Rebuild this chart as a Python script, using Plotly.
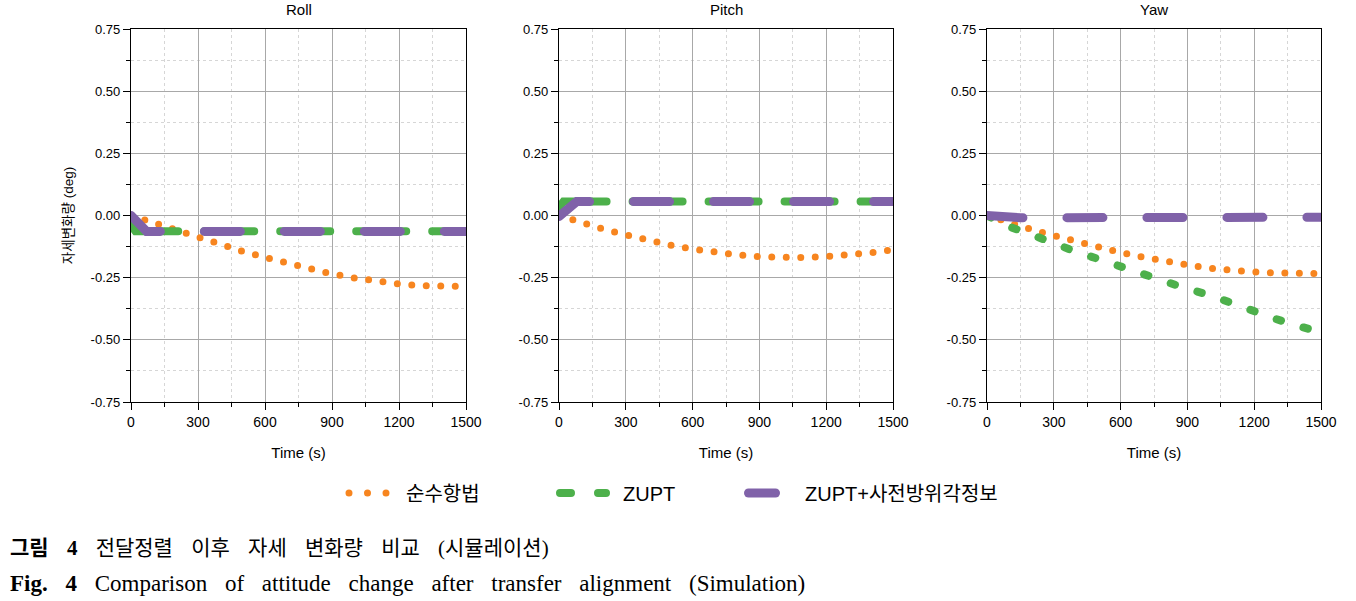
import plotly.graph_objects as go

# ---------------- data ----------------
PANELS = ["Roll", "Pitch", "Yaw"]
SERIES = ["순수항법", "ZUPT", "ZUPT+사전방위각정보"]

T = [0, 100, 200, 300, 400, 500, 600, 700, 800, 900, 1000, 1100, 1200, 1300, 1400, 1500]

ROLL_PURE = [0.0, -0.030, -0.060, -0.089, -0.118, -0.144, -0.169, -0.193, -0.215, -0.235,
             -0.251, -0.264, -0.275, -0.282, -0.285, -0.285]
PITCH_PURE = [0.0, -0.029, -0.055, -0.078, -0.100, -0.119, -0.135, -0.149, -0.158, -0.166,
              -0.170, -0.169, -0.165, -0.160, -0.150, -0.138]
YAW_PURE = [0.0, -0.031, -0.056, -0.081, -0.104, -0.130, -0.149, -0.167, -0.185, -0.198,
            -0.212, -0.221, -0.227, -0.231, -0.234, -0.234]

ROLL_ZUPT_T = [0, 20, 1500]
ROLL_ZUPT = [-0.040, -0.063, -0.063]
PITCH_ZUPT_T = [0, 20, 1500]
PITCH_ZUPT = [0.035, 0.056, 0.056]
YAW_ZUPT = [0.0, -0.045, -0.077, -0.113, -0.146, -0.175, -0.206, -0.237, -0.265, -0.295,
            -0.320, -0.354, -0.384, -0.417, -0.445, -0.470]

ROLL_PRIOR_T = [0, 70, 1500]
ROLL_PRIOR = [0.0, -0.064, -0.064]
PITCH_PRIOR_T = [0, 80, 1500]
PITCH_PRIOR = [-0.004, 0.056, 0.056]
YAW_PRIOR_T = [0, 150, 1500]
YAW_PRIOR = [0.0, -0.009, -0.007]

X_TICKS = [0, 300, 600, 900, 1200, 1500]
X_TICK_LABELS = ["0", "300", "600", "900", "1200", "1500"]
Y_TICKS = [-0.75, -0.5, -0.25, 0.0, 0.25, 0.5, 0.75]
Y_TICK_LABELS = ["-0.75", "-0.50", "-0.25", "0.00", "0.25", "0.50", "0.75"]

CAPTION_KO = "<b>그림 4</b> 전달정렬 이후 자세 변화량 비교 (시뮬레이션)"
CAPTION_EN = "<b>Fig. 4</b> Comparison of attitude change after transfer alignment (Simulation)"

# ---------------- style ----------------
COLORS = ["#F7851F", "#4DB04B", "#8062A9"]
FONT = "Arial, 'Liberation Sans', 'Noto Sans CJK KR', sans-serif"
SERIF = "'Liberation Serif', 'Noto Sans CJK KR', serif"

W, H = 1356, 601
XDOM = [(131 / W, 466 / W), (559 / W, 893 / W), (987 / W, 1321 / W)]
YDOM = (1 - 402 / H, 1 - 29 / H)

fig = go.Figure()

panel_data = [
    ((T, ROLL_PURE), (ROLL_ZUPT_T, ROLL_ZUPT), (ROLL_PRIOR_T, ROLL_PRIOR)),
    ((T, PITCH_PURE), (PITCH_ZUPT_T, PITCH_ZUPT), (PITCH_PRIOR_T, PITCH_PRIOR)),
    ((T, YAW_PURE), (T, YAW_ZUPT), (YAW_PRIOR_T, YAW_PRIOR)),
]
green_dash = ["50px,26px", "50px,26px", "4.5px,23.5px"]
legend_ids = ["legend", "legend2", "legend3"]

for i, (pure, zupt, prior) in enumerate(panel_data):
    xa = "x" if i == 0 else f"x{i+1}"
    ya = "y" if i == 0 else f"y{i+1}"
    fig.add_trace(go.Scatter(x=pure[0], y=pure[1], mode="lines", name=SERIES[0],
                             line=dict(color=COLORS[0], width=7, dash="0px,14.5px"),
                             xaxis=xa, yaxis=ya, showlegend=(i == 0), legend=legend_ids[0]))
    fig.add_trace(go.Scatter(x=zupt[0], y=zupt[1], mode="lines", name=SERIES[1],
                             line=dict(color=COLORS[1], width=8, dash=green_dash[i]),
                             xaxis=xa, yaxis=ya, showlegend=(i == 0), legend=legend_ids[1]))
    fig.add_trace(go.Scatter(x=prior[0], y=prior[1], mode="lines", name=SERIES[2],
                             line=dict(color=COLORS[2], width=9, dash="36px,44px"),
                             xaxis=xa, yaxis=ya, showlegend=(i == 0), legend=legend_ids[2]))

legend_common = dict(orientation="h", y=1 - 493 / H, yanchor="middle", xanchor="left",
                     font=dict(size=20, family=FONT), bgcolor="rgba(0,0,0,0)")
layout = dict(
    width=W, height=H, margin=dict(l=0, r=0, t=0, b=0, autoexpand=False),
    paper_bgcolor="white", plot_bgcolor="white",
    font=dict(family=FONT, size=13, color="black"),
    showlegend=True,
    legend=dict(x=344 / W, itemwidth=52, **legend_common),
    legend2=dict(x=551 / W, itemwidth=62, **legend_common),
    legend3=dict(x=739 / W, itemwidth=56, **legend_common),
)

annotations = []
for i in range(3):
    sx = "" if i == 0 else str(i + 1)
    ox = str(i + 4)
    layout[f"xaxis{sx}"] = dict(
        domain=list(XDOM[i]), anchor=f"y{sx}", range=[0, 1500], automargin=False,
        tickmode="array", tickvals=X_TICKS, ticktext=X_TICK_LABELS,
        showgrid=True, gridcolor="#a8a8a8", gridwidth=1,
        showline=True, linecolor="black", linewidth=1.3, mirror=True,
        ticks="outside", ticklen=7, tickcolor="black", zeroline=False,
        tickfont=dict(size=14),
        minor=dict(dtick=150, tick0=0, showgrid=True, gridcolor="#d6d6d6", griddash="dot",
                   ticks="outside", ticklen=4, tickcolor="black"),
        title=dict(text="Time (s)", font=dict(size=15), standoff=18),
    )
    layout[f"yaxis{sx}"] = dict(
        domain=list(YDOM), anchor=f"x{sx}", range=[-0.75, 0.75], automargin=False,
        tickmode="array", tickvals=Y_TICKS, ticktext=Y_TICK_LABELS,
        showgrid=True, gridcolor="#a8a8a8", gridwidth=1,
        showline=True, linecolor="black", linewidth=1.3, mirror=True,
        ticks="outside", ticklen=7, tickcolor="black", zeroline=False,
        tickfont=dict(size=13),
        minor=dict(dtick=0.125, tick0=0, showgrid=True, gridcolor="#d6d6d6", griddash="dot",
                   ticks="outside", ticklen=4, tickcolor="black"),
    )
    # inward-pointing ticks on the top and right frame edges
    layout[f"xaxis{ox}"] = dict(
        overlaying=f"x{sx}", anchor=f"y{sx}", side="top", range=[0, 1500], automargin=False,
        tickmode="array", tickvals=X_TICKS, showticklabels=False, showgrid=False,
        showline=False, zeroline=False, ticks="inside", ticklen=7, tickcolor="black",
        minor=dict(dtick=150, tick0=0, ticks="inside", ticklen=4, tickcolor="black",
                   showgrid=False),
    )
    layout[f"yaxis{ox}"] = dict(
        overlaying=f"y{sx}", anchor=f"x{sx}", side="right", range=[-0.75, 0.75],
        automargin=False,
        tickmode="array", tickvals=Y_TICKS, showticklabels=False, showgrid=False,
        showline=False, zeroline=False, ticks="inside", ticklen=7, tickcolor="black",
        minor=dict(dtick=0.125, tick0=0, ticks="inside", ticklen=4, tickcolor="black",
                   showgrid=False),
    )
    annotations.append(dict(text=PANELS[i], xref="paper", yref="paper",
                            x=(XDOM[i][0] + XDOM[i][1]) / 2, y=1 - 10 / H,
                            xanchor="center", yanchor="middle", showarrow=False,
                            font=dict(size=15, family=FONT)))

layout["yaxis"]["title"] = dict(text="자세변화량 (deg)", font=dict(size=13.5), standoff=13)

annotations.append(dict(text=CAPTION_KO, xref="paper", yref="paper", x=8 / W, y=1 - 548 / H,
                        xanchor="left", yanchor="middle", align="left", showarrow=False,
                        font=dict(size=21, family=SERIF)))
annotations.append(dict(text=CAPTION_EN, xref="paper", yref="paper", x=8 / W, y=1 - 583 / H,
                        xanchor="left", yanchor="middle", align="left", showarrow=False,
                        font=dict(size=23, family=SERIF)))
layout["annotations"] = annotations

fig.update_layout(**layout)

post = """
document.documentElement.style.margin = '0';
document.body.style.margin = '0';
document.body.style.overflow = 'hidden';
var gd = document.getElementById('{plot_id}');
var legendSpec = {
  'legend':  {d: 'M5,0h38', dash: '0px,18.5px'},
  'legend2': {d: 'M9,0h46', dash: '11px,27px'},
  'legend3': {d: 'M9.5,0h27', dash: 'none'}
};
function polish(){
  gd.querySelectorAll('path.js-line').forEach(function(p){
    p.style.strokeLinecap = 'round';
  });
  Object.keys(legendSpec).forEach(function(id){
    gd.querySelectorAll('g.' + id + ' g.legendlines path').forEach(function(p){
      p.setAttribute('d', legendSpec[id].d);
      p.style.strokeDasharray = legendSpec[id].dash;
      p.style.strokeLinecap = 'round';
    });
  });
  gd.querySelectorAll('g.annotation text').forEach(function(t){
    var s = t.textContent || '';
    if (s.indexOf('Fig.') === 0) { t.style.wordSpacing = '12px'; }
    else if (s.indexOf('그림') === 0) { t.style.wordSpacing = '13px'; }
  });
}
polish();
gd.on('plotly_afterplot', polish);
window.dispatchEvent(new Event('resize'));
"""

fig.write_html("out.html", post_script=post, config={"displayModeBar": False})
